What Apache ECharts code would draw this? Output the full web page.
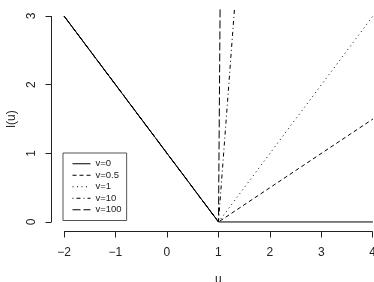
<!DOCTYPE html>
<html>
<head>
<meta charset="utf-8">
<script src="https://cdn.jsdelivr.net/npm/echarts@6/dist/echarts.min.js"></script>
<style>
  html, body { margin: 0; padding: 0; background: #fff; }
  #main { width: 374px; height: 282px; }
</style>
</head>
<body>
<div id="main"></div>
<script>
// values: u on x, l(u) on y
const seriesNames = ['v=0', 'v=0.5', 'v=1', 'v=10', 'v=100'];
const u0 = [-2, 1, 4];      const l0 = [3, 0, 0];
const u05 = [-2, 1, 4];     const l05 = [3, 0, 1.5];
const u1 = [-2, 1, 4];      const l1 = [3, 0, 3];
const u10 = [-2, 1, 1.312]; const l10 = [3, 0, 3.12];
const u100 = [-2, 1, 1.031]; const l100 = [3, 0, 3.12];
const xTicks = [-2, -1, 0, 1, 2, 3, 4];
const yTicks = [0, 1, 2, 3];

const dashTypes = ['solid', [4, 3], [1, 3.5], [1, 3, 4, 3], [8, 3]];

function pairs(xs, ys) {
  return xs.map((x, i) => [x, ys[i]]);
}
const allData = [pairs(u0, l0), pairs(u05, l05), pairs(u1, l1), pairs(u10, l10), pairs(u100, l100)];

const font = 'Liberation Sans, Arial, sans-serif';
const axisCol = '#222';
const xFirst = xTicks[0], xLast = xTicks[xTicks.length - 1];
const yFirst = yTicks[0], yLast = yTicks[yTicks.length - 1];

let chart = echarts.init(document.getElementById('main'));

const hidden = (g, lo, hi) => ({gridIndex: g, type: 'value', min: lo, max: hi, show: false});

let option = {
  animation: false,
  backgroundColor: '#fff',
  grid: [
    // plot region (data range padded 4% like R), runs past the right edge
    {left: 51.7, right: -11.3, top: 7.8, bottom: 51.8, outerBoundsMode: 'none'},
    // x axis ticks: bottom edge at the plot region bottom
    {left: 64, right: 1.3, top: 16, bottom: 50.5, outerBoundsMode: 'none'},
    // y axis ticks: left edge at the plot region left
    {left: 51.5, width: 100, top: 16, bottom: 60, outerBoundsMode: 'none'}
  ],
  xAxis: [
    {gridIndex: 0, type: 'value', min: -2.24, max: 4.24, show: false},
    {
      gridIndex: 1, type: 'value', min: xFirst, max: xLast, interval: 1,
      splitLine: {show: false},
      axisLine: {show: false},
      axisTick: {show: true, length: 6, lineStyle: {color: axisCol}},
      axisLabel: {
        margin: 15, color: '#222', fontSize: 12, fontFamily: font,
        formatter: v => (v < 0 ? '\u2212' + (-v) : String(v))
      },
      name: 'u', nameLocation: 'middle', nameGap: 42,
      nameTextStyle: {color: '#222', fontSize: 12, fontFamily: font}
    },
    hidden(2, 0, 1)
  ],
  yAxis: [
    {gridIndex: 0, type: 'value', min: -0.12, max: 3.12, show: false},
    hidden(1, 0, 1),
    {
      gridIndex: 2, type: 'value', min: yFirst, max: yLast, interval: 1,
      splitLine: {show: false},
      axisLine: {show: false},
      axisTick: {show: true, length: 6, lineStyle: {color: axisCol}},
      axisLabel: {margin: 14, rotate: 90, color: '#222', fontSize: 12, fontFamily: font},
      name: 'l(u)', nameLocation: 'middle', nameGap: 34, nameRotate: 90,
      nameTextStyle: {color: '#222', fontSize: 12, fontFamily: font}
    }
  ],
  legend: {
    orient: 'vertical',
    left: 63, top: 153,
    padding: [5, 5, 5, 9],
    itemWidth: 18, itemHeight: 8, itemGap: 0,
    borderColor: '#555', borderWidth: 1,
    itemStyle: {opacity: 0},
    lineStyle: {width: 1},
    textStyle: {color: '#222', fontSize: 9.5, fontFamily: font, lineHeight: 11.5},
    data: seriesNames
  },
  series: seriesNames.map((name, i) => ({
    name: name,
    type: 'line',
    xAxisIndex: 0,
    yAxisIndex: 0,
    data: allData[i],
    symbol: 'none',
    clip: true,
    z: i === 0 ? 5 : 3,
    itemStyle: {color: '#000'},
    lineStyle: {color: '#000', width: 1, type: dashTypes[i]}
  }))
};

chart.setOption(option);

// axis lines from first to last tick like R's axis(), placed through the axes' own scales
const crisp = v => Math.round(v - 0.5) + 0.5;
const xa = chart.convertToPixel({xAxisIndex: 1, yAxisIndex: 1}, [xFirst, 0]);
const xb = chart.convertToPixel({xAxisIndex: 1, yAxisIndex: 1}, [xLast, 0]);
const ya = chart.convertToPixel({xAxisIndex: 2, yAxisIndex: 2}, [0, yFirst]);
const yb = chart.convertToPixel({xAxisIndex: 2, yAxisIndex: 2}, [0, yLast]);
chart.setOption({
  graphic: [
    {type: 'line', silent: true, z: 10,
      shape: {x1: xa[0], y1: crisp(xa[1]), x2: xb[0], y2: crisp(xb[1])},
      style: {stroke: axisCol, lineWidth: 1}},
    {type: 'line', silent: true, z: 10,
      shape: {x1: crisp(ya[0]), y1: ya[1], x2: crisp(yb[0]), y2: yb[1]},
      style: {stroke: axisCol, lineWidth: 1}}
  ]
});
</script>
</body>
</html>
